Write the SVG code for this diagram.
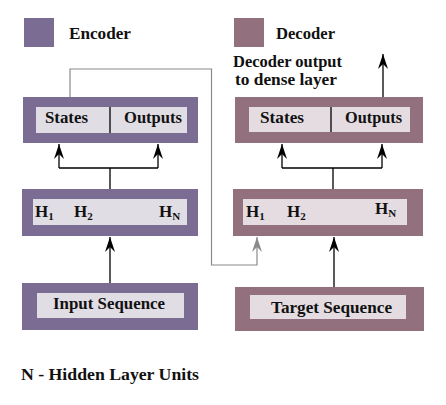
<svg xmlns="http://www.w3.org/2000/svg" width="446" height="405" viewBox="0 0 446 405" font-family="Liberation Serif, DejaVu Serif, serif">
<style>
text{font-family:"Liberation Serif","DejaVu Serif",serif;font-weight:bold;fill:#111;font-size:16px}
.enc{fill:#7b6c93}
.dec{fill:#93707e}
.ein{fill:#e1dde5}
.din{fill:#e4dce1}
.ln{stroke:#000;stroke-width:1.3;fill:none}
.gl{stroke:#8a8a8a;stroke-width:1.2;fill:none}
.h{font-size:17px}
.sub{font-size:11px}
</style>
<defs>
<marker id="ah" viewBox="-16 -6 17 12" refX="0" refY="0" markerWidth="17" markerHeight="12" markerUnits="userSpaceOnUse" orient="auto">
<path d="M0,0 L-15,-5 Q-11,-1 -10,0 Q-11,1 -15,5 Z" fill="#000"/>
</marker>
<marker id="ahg" viewBox="-16 -6 17 12" refX="0" refY="0" markerWidth="17" markerHeight="12" markerUnits="userSpaceOnUse" orient="auto">
<path d="M0,0 L-15,-5 Q-11,-1 -10,0 Q-11,1 -15,5 Z" fill="#8a8a8a"/>
</marker>
</defs>
<g id="legend">
<rect class="enc" x="24" y="18" width="30" height="29"/>
<text x="69" y="39" textLength="62" lengthAdjust="spacingAndGlyphs">Encoder</text>
<rect class="dec" x="234" y="18" width="30" height="29"/>
<text x="276" y="39" textLength="59" lengthAdjust="spacingAndGlyphs">Decoder</text>
</g>
<g id="dec-output-label">
<text x="233" y="67" textLength="109" lengthAdjust="spacingAndGlyphs">Decoder output</text>
<text x="235" y="85" textLength="102" lengthAdjust="spacingAndGlyphs">to dense layer</text>
</g>
<g id="enc-top">
<rect class="enc" x="23" y="97" width="175" height="46"/>
<rect class="ein" x="36" y="107" width="151" height="26"/>
<line class="ln" x1="110" y1="107" x2="110" y2="133"/>
<text x="45" y="123" textLength="43" lengthAdjust="spacingAndGlyphs">States</text>
<text x="124" y="123" textLength="58" lengthAdjust="spacingAndGlyphs">Outputs</text>
</g>
<g id="enc-hidden">
<rect class="enc" x="22" y="189" width="176" height="47"/>
<rect class="ein" x="33" y="199" width="154" height="26"/>
<text class="h" x="35" y="217">H<tspan class="sub" dy="3">1</tspan></text>
<text class="h" x="74" y="217">H<tspan class="sub" dy="3">2</tspan></text>
<text class="h" x="159" y="217">H<tspan class="sub" dy="3">N</tspan></text>
</g>
<g id="enc-input">
<rect class="enc" x="22" y="283" width="176" height="47"/>
<rect class="ein" x="37" y="293" width="147" height="25"/>
<text x="53" y="309" textLength="112" lengthAdjust="spacingAndGlyphs">Input Sequence</text>
</g>
<g id="dec-top">
<rect class="dec" x="235" y="97" width="188" height="46"/>
<rect class="din" x="249" y="107" width="161" height="25"/>
<line class="ln" x1="331" y1="107" x2="331" y2="132"/>
<text x="260" y="123" textLength="44" lengthAdjust="spacingAndGlyphs">States</text>
<text x="345" y="123" textLength="57" lengthAdjust="spacingAndGlyphs">Outputs</text>
</g>
<g id="dec-hidden">
<rect class="dec" x="233" y="189" width="190" height="47"/>
<rect class="din" x="243" y="199" width="164" height="26"/>
<text class="h" x="246" y="217">H<tspan class="sub" dy="3">1</tspan></text>
<text class="h" x="287" y="217">H<tspan class="sub" dy="3">2</tspan></text>
<text class="h" x="375" y="214">H<tspan class="sub" dy="3">N</tspan></text>
</g>
<g id="dec-target">
<rect class="dec" x="235" y="287" width="189" height="44"/>
<rect class="din" x="250" y="295" width="156" height="24"/>
<text x="271" y="313" textLength="121" lengthAdjust="spacingAndGlyphs">Target Sequence</text>
</g>
<g id="note">
<text x="21" y="380" textLength="178" lengthAdjust="spacingAndGlyphs">N - Hidden Layer Units</text>
</g>
<g id="connectors">
<path class="ln" d="M110,189 V168 M59,168 H158"/>
<line class="ln" x1="59" y1="168" x2="59" y2="144" marker-end="url(#ah)"/>
<line class="ln" x1="158" y1="168" x2="158" y2="144" marker-end="url(#ah)"/>
<line class="ln" x1="110" y1="283" x2="110" y2="237" marker-end="url(#ah)"/>
<path class="ln" d="M333,189 V168 M282,168 H382"/>
<line class="ln" x1="282" y1="168" x2="282" y2="144" marker-end="url(#ah)"/>
<line class="ln" x1="382" y1="168" x2="382" y2="144" marker-end="url(#ah)"/>
<line class="ln" x1="334" y1="287" x2="334" y2="237" marker-end="url(#ah)"/>
<line class="ln" x1="383" y1="97" x2="383" y2="54" marker-end="url(#ah)"/>
<path class="gl" d="M70,97 V69 H211.5 V265 H257 V237" marker-end="url(#ahg)"/>
</g>
</svg>
